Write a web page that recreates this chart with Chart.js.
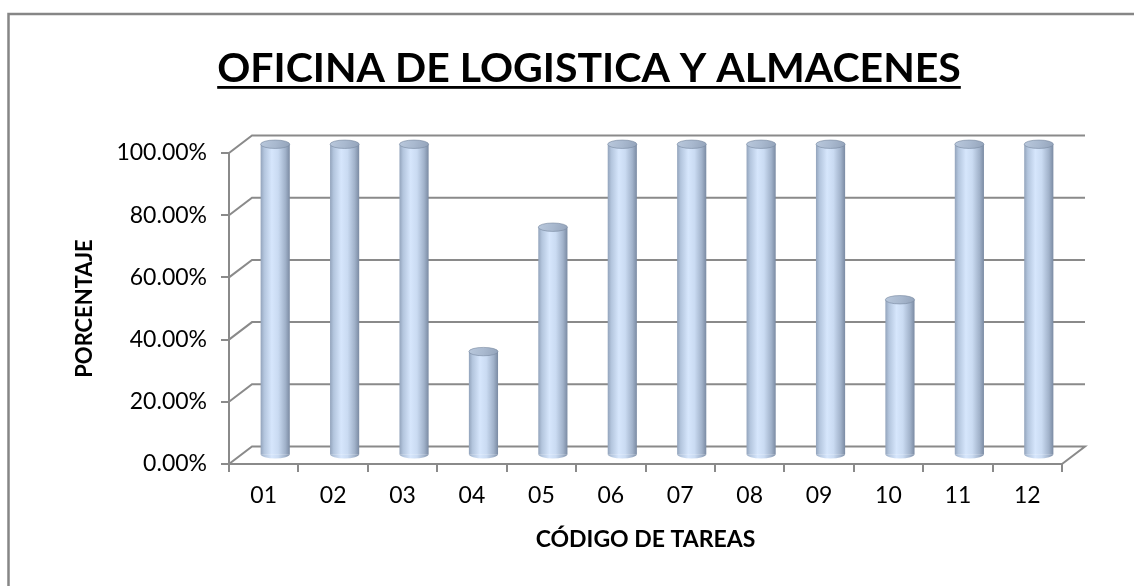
<!DOCTYPE html>
<html><head><meta charset="utf-8">
<script src="https://cdn.jsdelivr.net/npm/chart.js@4"></script>
<style>html,body{margin:0;padding:0;background:#fff}#wrap{width:1134px;height:586px;position:relative}canvas{display:block}</style>
</head><body><div id="wrap"><canvas id="c" width="1134" height="586"></canvas></div>
<script>
// ---- data ----
const chartTitle = 'OFICINA DE LOGISTICA Y ALMACENES';
const categories = ['01','02','03','04','05','06','07','08','09','10','11','12'];
const percentages = [100, 100, 100, 33.33, 73.33, 100, 100, 100, 100, 50, 100, 100];
const yAxisTitle = 'PORCENTAJE';
const xAxisTitle = 'CÓDIGO DE TAREAS';

// ---- style ----
const DX = 23, DY = 17.5;
const FONT = 'Lato, "Open Sans", sans-serif';
const GRID = '#8a8a8a';

function bodyGradient(ctx, x0, x1) {
  const g = ctx.createLinearGradient(x0, 0, x1, 0);
  g.addColorStop(0, '#93a4bc');
  g.addColorStop(0.12, '#b3c5dd');
  g.addColorStop(0.38, '#d6e6fc');
  g.addColorStop(0.6, '#cadbf2');
  g.addColorStop(0.85, '#a1b2ca');
  g.addColorStop(1, '#7b8ba3');
  return g;
}

const threeD = {
  id: 'threeD',
  beforeDraw(chart) {
    const ctx = chart.ctx;
    ctx.save();
    ctx.fillStyle = '#fff';
    ctx.fillRect(0, 0, chart.width, chart.height);
    ctx.strokeStyle = '#868686';
    ctx.lineWidth = 2.5;
    ctx.beginPath();
    ctx.moveTo(8.5, chart.height + 2);
    ctx.lineTo(8.5, 14);
    ctx.lineTo(chart.width + 2, 14);
    ctx.stroke();
    ctx.restore();
  },
  beforeDatasetsDraw(chart) {
    const {ctx, chartArea: a, scales: {y}} = chart;
    ctx.save();
    ctx.strokeStyle = GRID;
    ctx.lineWidth = 2;
    y.ticks.forEach(t => {
      const py = y.getPixelForValue(t.value);
      ctx.beginPath();
      ctx.moveTo(a.left, py);
      ctx.lineTo(a.left + DX, py - DY);
      ctx.lineTo(a.right + DX, py - DY);
      if (t.value === 0) ctx.lineTo(a.right, py);
      ctx.stroke();
    });
    ctx.restore();
    ctx.save();
    ctx.translate(DX / 2, -DY / 2);
  },
  afterDatasetsDraw(chart) {
    const ctx = chart.ctx;
    ctx.restore();
    const meta = chart.getDatasetMeta(0);
    ctx.save();
    meta.data.forEach(el => {
      const cx = el.x + DX / 2, rx = el.width / 2, ry = 4.2;
      const topY = el.y - DY / 2, baseY = el.base - DY / 2;
      ctx.fillStyle = bodyGradient(ctx, cx - rx, cx + rx);
      ctx.beginPath();
      ctx.ellipse(cx, baseY, rx, ry, 0, 0, Math.PI);
      ctx.fill();
      const cg = ctx.createLinearGradient(cx - rx, topY - ry, cx + rx, topY + ry);
      cg.addColorStop(0, '#b9c8dc');
      cg.addColorStop(0.5, '#a9b9cf');
      cg.addColorStop(1, '#93a3ba');
      ctx.fillStyle = cg;
      ctx.beginPath();
      ctx.ellipse(cx, topY, rx, ry, 0, 0, Math.PI * 2);
      ctx.fill();
      ctx.strokeStyle = 'rgba(120,136,160,0.6)';
      ctx.lineWidth = 1;
      ctx.stroke();
    });
    ctx.restore();
  },
  afterDraw(chart) {
    const ctx = chart.ctx;
    ctx.save();
    ctx.font = 'bold 41px ' + FONT;
    ctx.fillStyle = '#000';
    ctx.textAlign = 'center';
    ctx.textBaseline = 'alphabetic';
    const cx = 589;
    ctx.fillText(chartTitle, cx, 82);
    const w = ctx.measureText(chartTitle).width;
    ctx.fillRect(cx - w / 2, 86, w, 2.8);
    ctx.restore();
  }
};

new Chart(document.getElementById('c'), {
  type: 'bar',
  data: {
    labels: categories,
    datasets: [{
      data: percentages,
      backgroundColor: (c) => {
        const sx = c.chart.scales && c.chart.scales.x;
        const x = sx ? sx.getPixelForValue(c.dataIndex) : NaN;
        if (!isFinite(x)) return '#c4d5ec';
        return bodyGradient(c.chart.ctx, x - 14.5, x + 14.5);
      },
      borderWidth: 0,
      barPercentage: 0.42,
      categoryPercentage: 1,
      clip: false
    }]
  },
  options: {
    responsive: false,
    animation: false,
    events: [],
    layout: { padding: { left: 72, top: 153, right: 72, bottom: 33 } },
    plugins: { legend: { display: false }, tooltip: { enabled: false }, title: { display: false } },
    scales: {
      x: {
        grid: { display: true, drawOnChartArea: false, drawTicks: true, tickLength: 8, color: GRID, lineWidth: 2 },
        border: { display: true, color: GRID, width: 2 },
        ticks: { color: '#000', font: { family: FONT, size: 23 }, padding: 10, maxRotation: 0 },
        title: { display: true, text: xAxisTitle, color: '#000', font: { family: FONT, size: 23, weight: 'bold' }, padding: 0 },
        afterFit: (s) => { s.height = 89; }
      },
      y: {
        min: 0, max: 100,
        ticks: { stepSize: 20, color: '#000', font: { family: FONT, size: 23 }, padding: 14,
          callback: (v) => Number(v).toFixed(2) + '%' },
        grid: { display: true, drawOnChartArea: false, drawTicks: true, tickLength: 8, color: GRID, lineWidth: 2 },
        border: { display: true, color: GRID, width: 2 },
        title: { display: true, text: yAxisTitle, color: '#000', font: { family: FONT, size: 22, weight: 'bold' }, padding: 0 },
        afterFit: (s) => { s.width = 157; }
      }
    }
  },
  plugins: [threeD]
});
</script>
</body></html>
